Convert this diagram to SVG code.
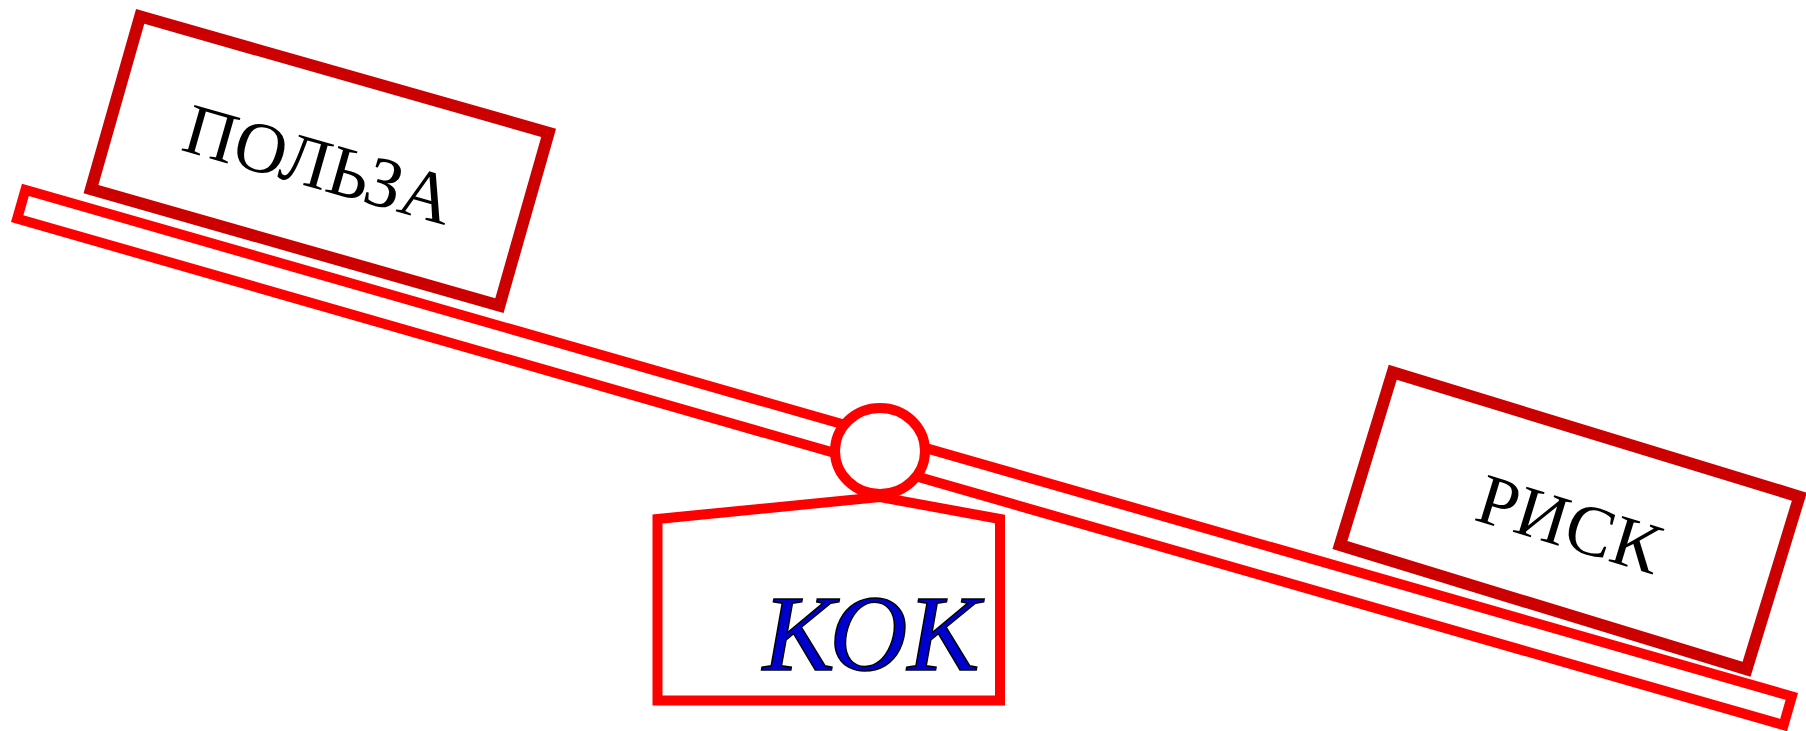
<svg xmlns="http://www.w3.org/2000/svg" width="1806" height="731" viewBox="0 0 1806 731">
<style>
.box{fill:#fff;stroke:#cc0000;stroke-width:12}
.beam{fill:#fff;stroke:#ff0000;stroke-width:10}
.lbl{font-family:"Liberation Serif","Times New Roman",serif;font-style:normal;font-size:72px;fill:#000;text-anchor:middle}
.kok{font-family:"Liberation Serif","Times New Roman",serif;font-style:italic;font-size:108px;fill:#0000cc;stroke:#000;stroke-width:1.5;text-anchor:middle}
</style>
<g id="connectors">
<rect class="beam" x="-14.3" y="442.6" width="1837.6" height="29.8" transform="rotate(16 904.5 457.5)"/>
</g>
<g id="base">
<polygon class="beam" points="657.5,519 880,497 1000,519 1000,700.5 657.5,700.5"/>
<text class="kok" x="871" y="670">КОК</text>
</g>
<g id="pivot">
<ellipse class="beam" cx="880" cy="451" rx="45" ry="43"/>
</g>
<g id="benefit">
<rect class="box" x="107.45" y="71.2" width="424.7" height="179.6" transform="rotate(15.9 319.8 161)"/>
<text class="lbl" x="319.8" y="188.6" transform="rotate(15.9 319.8 161)">ПОЛЬЗА</text>
</g>
<g id="risk">
<rect class="box" x="1357.05" y="430.55" width="425.2" height="180.6" transform="rotate(17 1569.65 520.85)"/>
<text class="lbl" x="1570.35" y="547.95" transform="rotate(17 1569.65 520.85)">РИСК</text>
</g>
</svg>
